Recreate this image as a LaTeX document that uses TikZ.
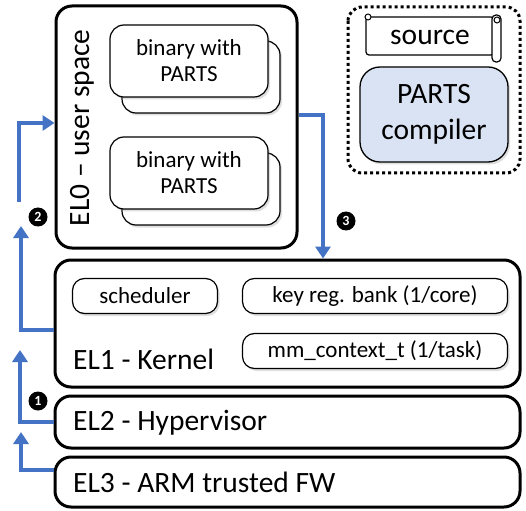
\documentclass[tikz,border=0pt]{standalone}
\usepackage{fontspec}
\setmainfont{Carlito}
\usetikzlibrary{arrows.meta,shadows,calc}
\definecolor{arrblue}{HTML}{4472C4}
\definecolor{arrdark}{HTML}{2F5597}
\definecolor{compfill}{HTML}{DAE3F3}
\begin{document}
\begin{tikzpicture}[x=1pt,y=-1pt,
  bigbox/.style={draw=black, line width=3pt, rounded corners=16pt, fill=white, inner sep=0pt},
  smallbox/.style={draw=black, line width=1.2pt, rounded corners=12pt, fill=white, inner sep=0pt,
    drop shadow={opacity=0.25, shadow xshift=2pt, shadow yshift=-2.5pt}},
  binbox/.style={smallbox, rounded corners=14pt, minimum width=158pt, minimum height=72pt, align=center,
    font=\fontsize{23}{26}\selectfont},
  bigtext/.style={font=\fontsize{29.5}{34}\selectfont, inner sep=0pt},
  midtext/.style={font=\fontsize{23}{26}\selectfont},
  arr/.style={draw=arrblue, line width=4.5pt, -{Triangle[width=15pt,length=12pt]}},
  numc/.style={circle, fill=black, text=white, inner sep=0pt, minimum size=19pt,
    font=\bfseries\fontsize{14}{14}\selectfont}]
\useasboundingbox (0,0) rectangle (526,510);
\fill[white] (0,0) rectangle (526,510);

% EL0 user space
\node[bigbox, minimum width=241pt, minimum height=242pt] (el0) at (176.5,127) {};
\node[bigtext, rotate=90] (el0lbl) at (82,128) {EL0 – user space};
\node[binbox] (bin1b) at (201,77) {};
\node[binbox] (bin1) at (189,61) {binary with\\PARTS};
\node[binbox] (bin2b) at (201,189) {};
\node[binbox] (bin2) at (189,173) {binary with\\PARTS};

% compiler group
\draw[line width=3pt, dash pattern=on 3pt off 3pt, rounded corners=14pt] (348,7) rectangle (520,173);
\node[draw=black, line width=1.3pt, fill=compfill, rounded corners=20pt, minimum width=148pt,
  minimum height=95pt, align=center, font=\fontsize{29.5}{36}\selectfont, inner sep=0pt,
  drop shadow={opacity=0.25, shadow xshift=2pt, shadow yshift=-2.5pt}] (comp) at (434,114.5) {PARTS\\compiler};
% source scroll
\draw[line width=1.2pt, fill=white, rounded corners=3pt] (366,17) -- (366,55) -- (494,55) -- (494,17) -- cycle;
\draw[line width=1.2pt, fill=white, rounded corners=4pt] (492,15) rectangle (501,62);
\draw[line width=1pt, fill=white] (497,20) circle (3);
\draw[line width=1pt, fill=white] (368,17) circle (3);
\node[bigtext] (src) at (430,37) {source};

% EL1 kernel
\node[bigbox, minimum width=465pt, minimum height=127pt] (el1) at (287.5,323.5) {};
\node[smallbox, minimum width=145pt, minimum height=35pt, midtext] (sched) at (145,296) {scheduler};
\node[smallbox, minimum width=265pt, minimum height=35pt, midtext] (keyreg) at (375,296) {key reg. bank (1/core)};
\node[smallbox, minimum width=265pt, minimum height=35pt, midtext] (mmctx) at (375,351) {mm\_context\_t (1/task)};
\node[bigtext, anchor=west] (el1lbl) at (73,359) {EL1 - Kernel};

% EL2, EL3
\node[bigbox, minimum width=465pt, minimum height=52pt] (el2) at (287.5,422) {};
\node[bigtext, anchor=west] (el2lbl) at (73,423) {EL2 - Hypervisor};
\node[bigbox, minimum width=465pt, minimum height=50pt] (el3) at (287.5,482) {};
\node[bigtext, anchor=west] (el3lbl) at (73,482) {EL3 - ARM trusted FW};

% arrows
\coordinate (a3) at (323,115);
\draw[arr] (el0.east |- a3) -| (el1.north -| a3);
\node[numc] (n3) at (346,221) {3};

\coordinate (a2low) at (0,330);
\coordinate (a2tip) at (21,226);
\draw[arr] (el1.west |- a2low) -| (a2tip);
\coordinate (a2start) at (19,202);
\coordinate (a2y) at (0,123);
\draw[arr] (a2start) |- (el0.west |- a2y);
\node[numc] (n2) at (38,217) {2};

\coordinate (a1tip) at (20,350);
\draw[arr] (el2.west) -| (a1tip);
\node[numc] (n1) at (38,401) {1};

\coordinate (a0y) at (0,470);
\coordinate (a0tip) at (21,432);
\draw[arr] (el3.west |- a0y) -| (a0tip);
\end{tikzpicture}
\end{document}
